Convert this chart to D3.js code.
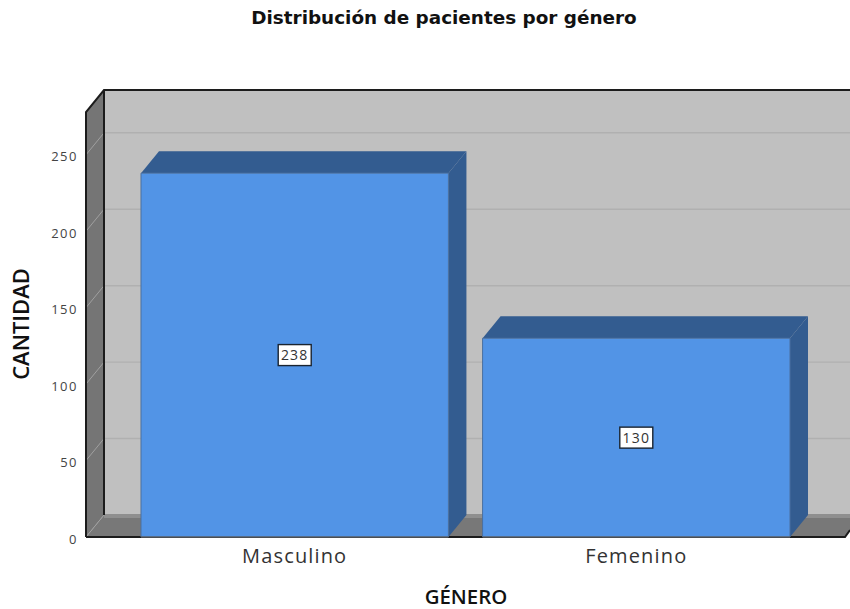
<!DOCTYPE html>
<html>
<head>
<meta charset="utf-8">
<script src="https://cdn.jsdelivr.net/npm/d3@7"></script>
<style>
  html, body { margin: 0; padding: 0; background: #fff; }
  svg { display: block; }
  text { font-family: "Open Sans", sans-serif; }
  text.title { font-family: "DejaVu Sans", sans-serif; }
</style>
</head>
<body>
<svg id="chart" width="850" height="609"></svg>
<script>
const categories = ["Masculino", "Femenino"];
const counts = [238, 130];
const yTicks = [0, 50, 100, 150, 200, 250];
const yMax = 278;
const titleText = "Distribución de pacientes por género";
const xTitle = "GÉNERO";
const yTitle = "CANTIDAD";

const colors = {
  wall: "#c0c0c0", wallSide: "#757575", floor: "#787878", floorBand: "#8f8f8f",
  grid: "#b0b0b0", sideGrid: "#a0a0a0", frame: "#1c1c1c",
  barFront: "#5294e6", barTop: "#335c90", barSide: "#335c90", barEdge: "#4a6f9f"
};

// Oblique projection offset between the front plane and the back wall
const depthX = 18, depthY = -22;

const svg = d3.select("#chart");
const x = d3.scaleBand().domain(categories).range([86, 845]).paddingInner(0.1).paddingOuter(0.161);
const y = d3.scaleLinear().domain([0, yMax]).range([537, 112]);
const poly = pts => "M" + pts.map(p => p.join(",")).join("L") + "Z";

const x0 = x.range()[0], x1 = x.range()[1];
const yBase = y(0), yTop = y(yMax);

// Back wall, cropped by the right edge of the canvas
svg.append("rect")
  .attr("x", x0 + depthX).attr("y", yTop + depthY)
  .attr("width", 850 - x0 - depthX).attr("height", yBase - yTop)
  .attr("fill", colors.wall);

// Floor, also cropped on the right
svg.append("path")
  .attr("d", poly([[x0 + depthX, yBase + depthY], [850, yBase + depthY], [850, yBase - 7], [x1, yBase], [x0, yBase]]))
  .attr("fill", colors.floor);
svg.append("rect")
  .attr("x", x0 + depthX).attr("y", yBase + depthY - 1)
  .attr("width", 850 - x0 - depthX).attr("height", 4)
  .attr("fill", colors.floorBand);

// Left side wall
svg.append("path")
  .attr("d", poly([[x0, yTop], [x0 + depthX, yTop + depthY], [x0 + depthX, yBase + depthY], [x0, yBase]]))
  .attr("fill", colors.wallSide);

// Gridlines on the back and side walls
const gridValues = yTicks.filter(d => d > 0);
svg.append("g").selectAll("line").data(gridValues).join("line")
  .attr("x1", x0 + depthX).attr("x2", 850)
  .attr("y1", d => y(d) + depthY).attr("y2", d => y(d) + depthY)
  .attr("stroke", colors.grid).attr("stroke-width", 1.4);
svg.append("g").selectAll("line").data(yTicks).join("line")
  .attr("x1", x0).attr("x2", x0 + depthX)
  .attr("y1", d => y(d)).attr("y2", d => y(d) + depthY)
  .attr("stroke", colors.sideGrid).attr("stroke-width", 1);

// Frame lines
const frame = svg.append("g").attr("fill", "none").attr("stroke", colors.frame).attr("stroke-width", 2);
frame.append("path").attr("d", d3.line()([[x0, yBase], [x0, yTop], [x0 + depthX, yTop + depthY], [850, yTop + depthY]]));
frame.append("path").attr("d", d3.line()([[x0 + depthX, yTop + depthY], [x0 + depthX, yBase + depthY]]));
frame.append("path").attr("d", d3.line()([[x0, yBase], [x1, yBase], [x1 + 5, yBase - 7]]));

// Bars: top and side faces first, then the front face
const bars = svg.append("g").selectAll("g").data(categories.map((c, i) => ({ c, v: counts[i] }))).join("g");
bars.append("path")
  .attr("d", d => {
    const l = x(d.c), r = l + x.bandwidth(), t = y(d.v);
    return poly([[l, t], [l + depthX, t + depthY], [r + depthX, t + depthY], [r, t]]);
  })
  .attr("fill", colors.barTop);
bars.append("path")
  .attr("d", d => {
    const r = x(d.c) + x.bandwidth(), t = y(d.v);
    return poly([[r, t], [r + depthX, t + depthY], [r + depthX, yBase + depthY], [r, yBase]]);
  })
  .attr("fill", colors.barSide);
bars.append("rect")
  .attr("x", d => x(d.c)).attr("y", d => y(d.v))
  .attr("width", x.bandwidth()).attr("height", d => yBase - y(d.v))
  .attr("fill", colors.barFront);
bars.append("path")
  .attr("d", d => {
    const l = x(d.c), r = l + x.bandwidth();
    return d3.line()([[l, yBase], [l, y(d.v)], [r, y(d.v)], [r, yBase]]);
  })
  .attr("fill", "none").attr("stroke", colors.barEdge).attr("stroke-width", 1);
bars.append("line")
  .attr("x1", d => x(d.c)).attr("x2", d => x(d.c) + x.bandwidth())
  .attr("y1", yBase).attr("y2", yBase)
  .attr("stroke", "#5a5f66").attr("stroke-width", 1.6);

// Value labels sit at the vertical middle of each bar
const labelW = 33, labelH = 21;
const labels = bars.append("g")
  .attr("transform", d => `translate(${x(d.c) + x.bandwidth() / 2},${(y(d.v) + yBase) / 2})`);
labels.append("rect")
  .attr("x", -labelW / 2).attr("y", -labelH / 2)
  .attr("width", labelW).attr("height", labelH)
  .attr("fill", "#fff").attr("stroke", "#1a2430").attr("stroke-width", 1.4);
labels.append("text")
  .attr("text-anchor", "middle").attr("dy", "0.36em")
  .attr("font-size", 14).attr("letter-spacing", 1.2).attr("fill", "#333")
  .text(d => d.v);

// Y tick labels
svg.append("g").selectAll("text").data(yTicks).join("text")
  .attr("x", 78).attr("y", d => y(d) + 2).attr("dy", "0.36em")
  .attr("text-anchor", "end").attr("font-size", 13).attr("letter-spacing", 1.5).attr("fill", "#444")
  .text(d => d);

// Category labels
svg.append("g").selectAll("text").data(categories).join("text")
  .attr("x", d => x(d) + x.bandwidth() / 2).attr("y", 563)
  .attr("text-anchor", "middle").attr("font-size", 20).attr("letter-spacing", 1.15).attr("fill", "#333")
  .text(d => d);

// Titles
svg.append("text").attr("class", "title")
  .attr("x", 444).attr("y", 24).attr("text-anchor", "middle")
  .attr("font-size", 18.4).attr("font-weight", "bold").attr("fill", "#111")
  .text(titleText);
svg.append("text")
  .attr("x", 466).attr("y", 604).attr("text-anchor", "middle")
  .attr("font-size", 20.4).attr("font-weight", 600).attr("fill", "#111")
  .text(xTitle);
svg.append("text")
  .attr("transform", "translate(29,324) rotate(-90)").attr("text-anchor", "middle")
  .attr("font-size", 22).attr("font-weight", 600).attr("fill", "#111")
  .text(yTitle);
</script>
</body>
</html>
